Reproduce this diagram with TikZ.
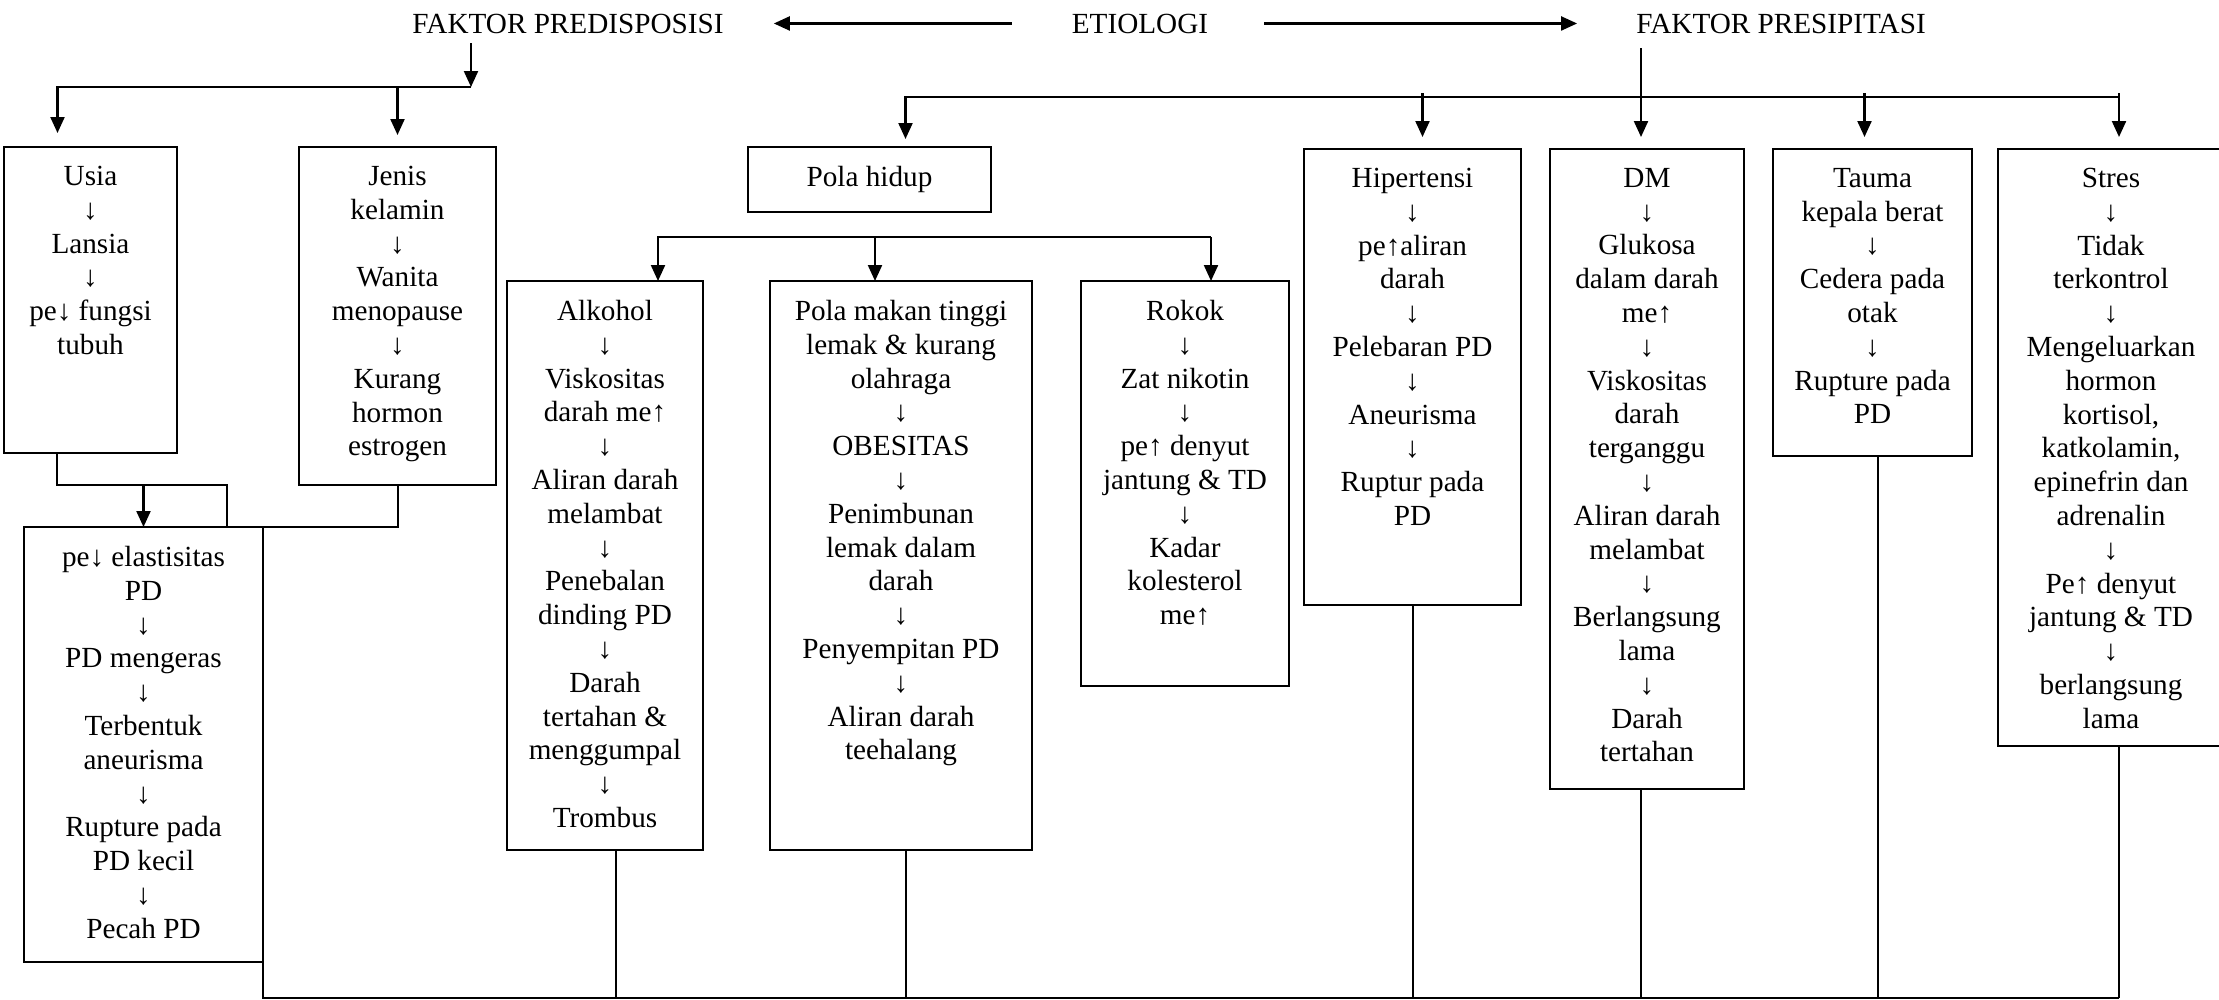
\documentclass[tikz,border=0pt]{standalone}
\usepackage{fontspec}
\setmainfont{Liberation Serif}
\usetikzlibrary{arrows.meta}
\tikzset{
  box/.style={draw, line width=2pt, inner sep=0pt, outer sep=0pt, anchor=north west},
  txt/.style={anchor=north, align=center, inner sep=0pt, font=\fontsize{29.2pt}{33.8pt}\selectfont},
  ttl/.style={anchor=base, inner sep=0pt, font=\fontsize{29.2pt}{33.8pt}\selectfont},
  arr/.style={line width=2.2pt, -{Triangle[length=16pt,width=14pt]}},
  wire/.style={line width=2pt}
}
\begin{document}
\begin{tikzpicture}[x=1pt,y=-1pt]
\useasboundingbox (0,0) rectangle (2219,999);
% judul
\node[ttl] (predis) at (568,33) {FAKTOR PREDISPOSISI};
\node[ttl] (etio) at (1140,33) {ETIOLOGI};
\node[ttl] (presip) at (1781,33) {FAKTOR PRESIPITASI};
\draw[arr, shorten <=60pt, shorten >=50pt] (etio.west) -- (predis.east);
\draw[arr, shorten <=56pt, shorten >=59pt] (etio.east) -- (presip.west);

% kotak
\node[box, minimum width=173pt, minimum height=306pt] (usia) at (4,147) {};
\node[box, minimum width=197pt, minimum height=338pt] (jenis) at (299,147) {};
\node[box, minimum width=239pt, minimum height=435pt] (pe) at (24,527) {};
\node[box, minimum width=243pt, minimum height=65pt] (pola) at (748,147) {};
\node[box, minimum width=196pt, minimum height=569pt] (alk) at (507,281) {};
\node[box, minimum width=262pt, minimum height=569pt] (makan) at (770,281) {};
\node[box, minimum width=208pt, minimum height=405pt] (rokok) at (1081,281) {};
\node[box, minimum width=217pt, minimum height=456pt] (hiper) at (1304,149) {};
\node[box, minimum width=194pt, minimum height=640pt] (dm) at (1550,149) {};
\node[box, minimum width=199pt, minimum height=307pt] (tauma) at (1773,149) {};
\node[box, minimum width=226pt, minimum height=597pt] (stres) at (1998,149) {};

% isi kotak
\node[txt] (usia-t) at ([yshift=-19pt]usia.north) {Usia\\↓\\Lansia\\↓\\pe↓ fungsi\\tubuh};
\node[txt] (jenis-t) at ([yshift=-19pt]jenis.north) {Jenis\\kelamin\\↓\\Wanita\\menopause\\↓\\Kurang\\hormon\\estrogen};
\node[txt] (pe-t) at ([yshift=-19pt]pe.north) {pe↓ elastisitas\\PD\\↓\\PD mengeras\\↓\\Terbentuk\\aneurisma\\↓\\Rupture pada\\PD kecil\\↓\\Pecah PD};
\node[txt] (pola-t) at ([yshift=-19pt]pola.north) {Pola hidup};
\node[txt] (alk-t) at ([yshift=-19pt]alk.north) {Alkohol\\↓\\Viskositas\\darah me↑\\↓\\Aliran darah\\melambat\\↓\\Penebalan\\dinding PD\\↓\\Darah\\tertahan \&\\menggumpal\\↓\\Trombus};
\node[txt] (makan-t) at ([yshift=-19pt]makan.north) {Pola makan tinggi\\lemak \& kurang\\olahraga\\↓\\OBESITAS\\↓\\Penimbunan\\lemak dalam\\darah\\↓\\Penyempitan PD\\↓\\Aliran darah\\teehalang};
\node[txt] (rokok-t) at ([yshift=-19pt]rokok.north) {Rokok\\↓\\Zat nikotin\\↓\\pe↑ denyut\\jantung \& TD\\↓\\Kadar\\kolesterol\\me↑};
\node[txt] (hiper-t) at ([yshift=-19pt]hiper.north) {Hipertensi\\↓\\pe↑aliran\\darah\\↓\\Pelebaran PD\\↓\\Aneurisma\\↓\\Ruptur pada\\PD};
\node[txt] (dm-t) at ([yshift=-19pt]dm.north) {DM\\↓\\Glukosa\\dalam darah\\me↑\\↓\\Viskositas\\darah\\terganggu\\↓\\Aliran darah\\melambat\\↓\\Berlangsung\\lama\\↓\\Darah\\tertahan};
\node[txt] (tauma-t) at ([yshift=-19pt]tauma.north) {Tauma\\kepala berat\\↓\\Cedera pada\\otak\\↓\\Rupture pada\\PD};
\node[txt] (stres-t) at ([yshift=-19pt]stres.north) {Stres\\↓\\Tidak\\terkontrol\\↓\\Mengeluarkan\\hormon\\kortisol,\\katkolamin,\\epinefrin dan\\adrenalin\\↓\\Pe↑ denyut\\jantung \& TD\\↓\\berlangsung\\lama};

% predisposisi
\coordinate (pj) at (471,87);
\draw[arr, shorten <=10pt] (predis.south -| pj) -- (pj);
\draw[arr] (pj) -| ([xshift=-33pt,yshift=14pt]usia.north);
\draw[arr] (jenis.north |- pj) -- ([yshift=12pt]jenis.north);

% presipitasi
\coordinate (qj) at (1641,97);
\draw[arr, shorten <=15pt] (presip.south -| qj) -- ([yshift=12pt]dm.north -| qj);
\draw[arr] ([xshift=8pt]stres.north |- qj) -| ([xshift=36pt,yshift=8pt]pola.north);
\foreach \b/\dx in {hiper/10, tauma/-8, stres/8}
  \draw[arr] ([xshift=\dx pt]\b.north |- qj) ++(0,-4) -- ([xshift=\dx pt,yshift=12pt]\b.north);

% pola hidup
\coordinate (hj) at (0,237);
\draw[arr] ([xshift=26pt]rokok.north |- hj) -| ([xshift=53pt]alk.north);
\draw[arr] ([xshift=-26pt]makan.north |- hj) -- ([xshift=-26pt]makan.north);
\draw[arr] ([xshift=26pt]rokok.north |- hj) -- ([xshift=26pt]rokok.north);

% usia & jenis kelamin
\draw[wire] ([xshift=-34pt]usia.south) |- ([xshift=-36pt,yshift=42pt]pe.north east) -- ([xshift=-36pt]pe.north east);
\draw[arr] ([yshift=42pt]pe.north) -- (pe.north);
\draw[wire] (jenis.south) |- (pe.north east);

% garis bawah
\coordinate (bj) at (0,998);
\draw[wire] (pe.south east) |- ([xshift=8pt]stres.south |- bj);
\foreach \b/\dx in {alk/11, makan/5, hiper/0, dm/-6, tauma/5, stres/8}
  \draw[wire] ([xshift=\dx pt]\b.south) -- ([xshift=\dx pt]\b.south |- bj);
\end{tikzpicture}
\end{document}
